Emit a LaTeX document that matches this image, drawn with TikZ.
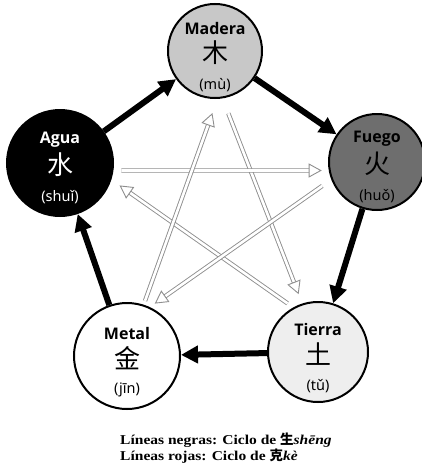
\documentclass[tikz,border=0pt]{standalone}
\usepackage{fontspec}
\setmainfont{Liberation Serif}
\newfontfamily\capfont{Liberation Serif}[FakeStretch=1.15]
\newfontfamily\labfont{Open Sans}
\newfontfamily\pinfont{Noto Sans}
\newfontfamily\cjk{Noto Sans CJK SC}
\usetikzlibrary{arrows.meta,calc}
\definecolor{WoodGray}{HTML}{C8C8C8}
\definecolor{FireGray}{HTML}{6E6E6E}
\definecolor{EarthGray}{HTML}{EEEEEE}
\definecolor{StarGray}{HTML}{8E8E8E}

\begin{document}
\begin{tikzpicture}[x=1pt,y=-1pt,
    elem/.style={circle, draw=black, line width=2pt, inner sep=0pt},
    nm/.style={font=\labfont\fontsize{16}{18}\selectfont\bfseries, inner sep=0pt},
    hz/.style={font=\cjk\fontsize{26}{28}\selectfont, inner sep=0pt},
    pin/.style={font=\pinfont\fontsize{14.5}{16}\selectfont, inner sep=0pt},
    sheng/.style={line width=6pt, -{Triangle[length=17pt,width=17pt]}},
    ke/.style={draw=StarGray, line width=0.9pt, double=white, double distance=2.6pt,
        -{Triangle[open,length=13pt,width=14pt,line width=0.9pt]}},
    caption/.style={font=\capfont\fontsize{13.5}{16}\selectfont\bfseries, inner sep=0pt, anchor=base west},
  ]
  \useasboundingbox (0,0) rectangle (422,471);

  % the five elements
  \foreach \id/\cx/\cy/\d/\fc/\tc/\nmtext/\hanzi/\pinyin in {
      madera/215/51/94/WoodGray/black/Madera/木/mù,
      fuego/377/162/96/FireGray/black/Fuego/火/huǒ,
      tierra/318/352/100/EarthGray/black/Tierra/土/tǔ,
      metal/127/356/106/white/black/Metal/金/jīn,
      agua/60/163/106/black/white/Agua/水/shuǐ}
  {
    \node[elem, fill=\fc, minimum size=\d pt] (\id) at (\cx,\cy) {};
    \node[nm, text=\tc]  (\id-nm) at ([yshift=23pt]\id.center) {\nmtext};
    \node[hz, text=\tc]  (\id-hz) at ([yshift=-2pt]\id.center) {\hanzi};
    \node[pin, text=\tc] (\id-py) at ([yshift=-34pt]\id.center) {(\pinyin)};
  }

  % sheng cycle
  \foreach \a/\b in {agua/madera,madera/fuego,fuego/tierra,tierra/metal,metal/agua}
  \draw[sheng](\a)--(\b);

  % ke cycle
  \foreach \a/\b/\s/\e in {madera.-81/tierra.108/16/10, tierra.119/agua.-18/7/10,
      agua.-8/fuego.-170/8/7, fuego.-159/metal.65/11/6, metal.72/madera.-87/4/15}
  \draw[ke, shorten <=\s pt, shorten >=\e pt](\a)--(\b);

  % caption
  \node[caption] (cap1) at (120,444) {Líneas negras: Ciclo de {\cjk 生}\textit{shēng}};
  \node[caption] (cap2) at (120,460) {Líneas rojas: Ciclo de {\cjk 克}\textit{kè}};
\end{tikzpicture}
\end{document}
